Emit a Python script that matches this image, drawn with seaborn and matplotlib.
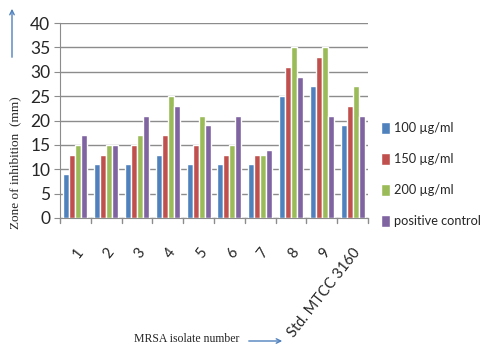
import matplotlib
matplotlib.use("Agg")
import matplotlib.pyplot as plt
import seaborn as sns
import pandas as pd
import numpy as np

categories = ["1", "2", "3", "4", "5", "6", "7", "8", "9", "Std. MTCC 3160"]
series_names = ["100 µg/ml", "150 µg/ml", "200 µg/ml", "positive control"]
v100 = [9, 11, 11, 13, 11, 11, 11, 25, 27, 19]
v150 = [13, 13, 15, 17, 15, 13, 13, 31, 33, 23]
v200 = [15, 15, 17, 25, 21, 15, 13, 35, 35, 27]
vpos = [17, 15, 21, 23, 19, 21, 14, 29, 21, 21]
colors = ["#4F81BD", "#C0504D", "#9BBB59", "#8064A2"]

rows = []
for name, vals in zip(series_names, [v100, v150, v200, vpos]):
    for c, v in zip(categories, vals):
        rows.append({"cat": c, "series": name, "value": v})
df = pd.DataFrame(rows)

sns.set_style("white")
plt.rcParams["font.family"] = ["Lato", "DejaVu Sans"]

fig = plt.figure(figsize=(4.85, 3.47), dpi=100)
ax = fig.add_axes([60/485, 1 - 218/347, 308/485, 195/347])

sns.barplot(data=df, x="cat", y="value", hue="series", palette=colors,
            width=0.78, gap=0, ax=ax, saturation=1, legend=True)

ax.set_ylim(0, 40)
ax.set_xlim(-0.5, len(categories) - 0.5)
ax.set_yticks(range(0, 41, 5))
ax.yaxis.grid(True, color="#8c8c8c", linewidth=1)
ax.set_axisbelow(True)
for s in ["top", "right"]:
    ax.spines[s].set_visible(False)
ax.spines["left"].set_color("#8c8c8c")
ax.spines["bottom"].set_color("#8c8c8c")
ax.tick_params(axis="y", length=4, color="#8c8c8c", labelsize=12.5, pad=3, left=True)
ax.set_xticks(np.arange(len(categories)))
ax.set_xticklabels(categories, rotation=52, ha="right", rotation_mode="anchor", fontsize=10.5)
ax.tick_params(axis="x", length=0, pad=20)
for b in np.arange(-0.5, len(categories), 1.0):
    ax.plot([b, b], [0, -0.025], transform=ax.get_xaxis_transform(), color="#8c8c8c",
            linewidth=1, clip_on=False)
ax.set_xlabel("")
ax.set_ylabel("")

leg = ax.legend(loc="upper left", bbox_to_anchor=(1.025, 0.52), frameon=False,
                prop={"size": 9.2}, handlelength=0.7, handleheight=1.1,
                handletextpad=0.3, labelspacing=1.45, borderaxespad=0)

fig.text(15/485, 1 - 163/347, "Zone of inhibition  (mm)", rotation=90,
         family="Liberation Serif", fontsize=9.5, ha="center", va="center")
fig.text(187/485, 1 - 339/347, "MRSA isolate number", family="Liberation Serif",
         fontsize=8.5, ha="center", va="center")
fig.add_artist(matplotlib.patches.FancyArrowPatch((12/485, 1 - 60/347), (12/485, 1 - 6/347),
               transform=fig.transFigure, arrowstyle="->", mutation_scale=8,
               color="#4F81BD", linewidth=1))
fig.add_artist(matplotlib.patches.FancyArrowPatch((246/485, 1 - 341/347), (285/485, 1 - 341/347),
               transform=fig.transFigure, arrowstyle="->", mutation_scale=8,
               color="#4F81BD", linewidth=1))

fig.savefig("out.png", dpi=100)
